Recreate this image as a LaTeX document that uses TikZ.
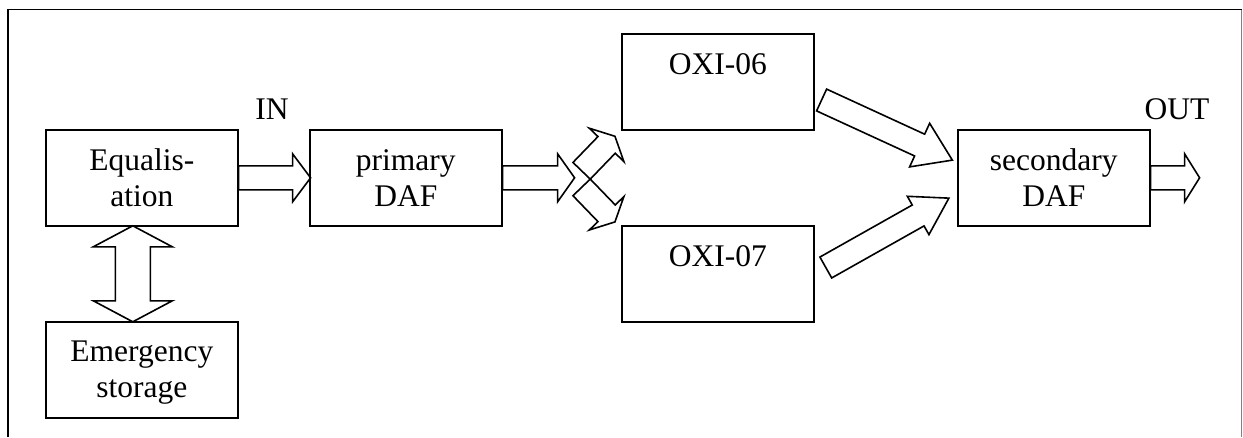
\documentclass[tikz,border=0pt]{standalone}
\usepackage{fontspec}
\setmainfont{Liberation Serif}
\usetikzlibrary{calc}
\newcommand\myarrow[4]{(0,-#3) -- (#1-#2,-#3) -- (#1-#2,-#4) -- (#1,0) -- (#1-#2,#4) -- (#1-#2,#3) -- (0,#3) -- cycle}
\begin{document}
\begin{tikzpicture}[x=1pt,y=-1pt,
  box/.style={draw, line width=1.6pt, minimum width=192pt, minimum height=96pt, inner sep=0pt, anchor=north west},
  txt/.style={font=\fontsize{31.5}{35.5}\selectfont, align=center, anchor=base, inner sep=0pt},
  barrow/.style={draw, line width=1.6pt, line join=miter}]
\useasboundingbox (0,0) rectangle (1243,437);
% frame
\draw[line width=1.6pt] (8,437) -- (8,9.5) -- (1241.5,9.5);
\draw[gray, line width=0.9pt] (1241.5,9.5) -- (1241.5,437);
% boxes
\node[box] (eq) at (45,129) {};
\node[box] (pdaf) at (309,129) {};
\node[box] (oxi6) at (621,33) {};
\node[box] (oxi7) at (621,225) {};
\node[box] (sdaf) at (957,129) {};
\node[box] (emer) at (45,321) {};
% texts
\node[txt] (eqt) at ($(eq.north)+(0,77)$) {Equalis-\\ation};
\node[txt] (pdaft) at ($(pdaf.north)+(0,77)$) {primary\\DAF};
\node[txt] (sdaft) at ($(sdaf.north)+(0,77)$) {secondary\\DAF};
\node[txt] (emert) at ($(emer.north)+(0,76)$) {Emergency\\storage};
\node[txt] (oxi6t) at ($(oxi6.north)+(0,41)$) {OXI-06};
\node[txt] (oxi7t) at ($(oxi7.north)+(0,41)$) {OXI-07};
\node[txt] (in) at (272,119.3) {IN};
\node[txt] (out) at (1177,119.3) {OUT};
% block arrows
\draw[barrow, shift={(eq.east)}] \myarrow{72}{18}{12}{24};
\draw[barrow, shift={(pdaf.east)}] \myarrow{72}{17}{12}{24};
\coordinate (split) at ($(pdaf.east)+(72,0)$);
\draw[barrow, shift={($(split)+(7,-7)$)}, rotate=46] \myarrow{48}{12}{12}{24};
\draw[barrow, shift={($(split)+(7,9.6)$)}, rotate=-46] \myarrow{48}{12}{12}{24};
\draw[barrow, shift={($(oxi6.east)+(7,18.2)$)}, rotate=-24.7] \myarrow{143.9}{36}{12}{24};
\draw[barrow, shift={($(oxi7.east)+(11.2,-6.3)$)}, rotate=29.4] \myarrow{141.3}{35.3}{12}{22};
\draw[barrow, shift={(sdaf.east)}] \myarrow{49}{15}{12}{24};
% double arrow
\draw[barrow, shift={($($(eq.south)!0.5!(emer.north)$)+(-9,0)$)}]
  (0,-48) -- (39.5,-27) -- (17.5,-27) -- (17.5,27) -- (39.5,27) -- (0,48)
  -- (-39.5,27) -- (-17.5,27) -- (-17.5,-27) -- (-39.5,-27) -- cycle;
\end{tikzpicture}
\end{document}
